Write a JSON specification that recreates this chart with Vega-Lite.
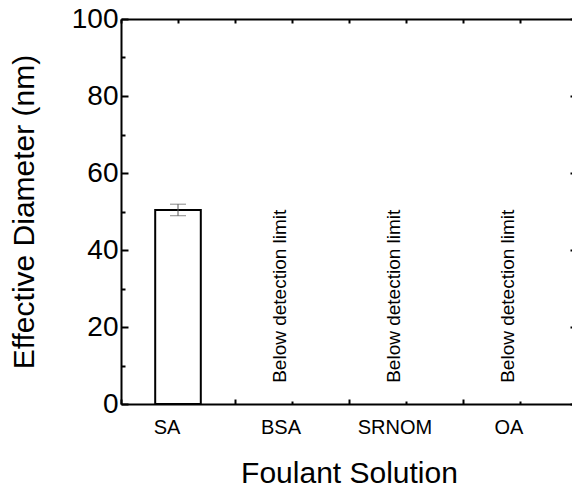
{
  "$schema": "https://vega.github.io/schema/vega-lite/v6.json",
  "width": 456,
  "height": 385,
  "autosize": "none",
  "padding": {"left": 121, "top": 19, "right": 0, "bottom": 88},
  "config": {
    "font": "Liberation Sans",
    "view": {"stroke": null},
    "axis": {"domainColor": "black", "tickColor": "black", "labelColor": "black", "titleColor": "black", "grid": false, "domainWidth": 2, "tickWidth": 2, "titleFontWeight": "normal"}
  },
  "data": {
    "values": [
      {"foulant": "SA", "diameter": 50.4, "lo": 48.9, "hi": 51.9, "note": null},
      {"foulant": "BSA", "diameter": null, "lo": null, "hi": null, "note": "Below detection limit"},
      {"foulant": "SRNOM", "diameter": null, "lo": null, "hi": null, "note": "Below detection limit"},
      {"foulant": "OA", "diameter": null, "lo": null, "hi": null, "note": "Below detection limit"}
    ]
  },
  "resolve": {"axis": {"x": "independent", "y": "independent"}},
  "layer": [
    {
      "mark": {"type": "bar", "fill": "white", "stroke": "black", "strokeWidth": 2, "width": {"band": 0.4}},
      "encoding": {
        "x": {"field": "foulant", "type": "nominal", "sort": ["SA", "BSA", "SRNOM", "OA"],
          "scale": {"paddingInner": 0, "paddingOuter": 0},
          "axis": {"orient": "bottom", "title": "Foulant Solution", "labelAngle": 0, "labelFontSize": 20, "labelOffset": -11, "labelPadding": 16, "tickSize": -3, "titleFontSize": 30, "titlePadding": 21}},
        "y": {"field": "diameter", "type": "quantitative", "scale": {"domain": [0, 100], "nice": false},
          "axis": {"orient": "left", "values": [0, 20, 40, 60, 80, 100], "title": "Effective Diameter (nm)", "labelFontSize": 28, "tickSize": -7, "labelPadding": 10, "titleFontSize": 30, "titlePadding": 32}}
      }
    },
    {
      "mark": {"type": "rule", "color": "#555555", "strokeWidth": 1},
      "encoding": {
        "x": {"field": "foulant", "type": "nominal", "sort": ["SA", "BSA", "SRNOM", "OA"],
          "axis": {"orient": "bottom", "title": null, "labels": false, "domain": false, "bandPosition": 0, "tickSize": -5}},
        "y": {"field": "lo", "type": "quantitative",
          "axis": {"orient": "left", "title": null, "labels": false, "domain": false, "values": [10, 30, 50, 70, 90], "tickSize": -4}},
        "y2": {"field": "hi"}
      }
    },
    {
      "mark": {"type": "tick", "color": "#555555", "size": 16, "thickness": 1},
      "encoding": {
        "x": {"field": "foulant", "type": "nominal", "sort": ["SA", "BSA", "SRNOM", "OA"],
          "axis": {"orient": "top", "title": null, "labels": false, "domain": true, "tickSize": -4}},
        "y": {"field": "lo", "type": "quantitative",
          "axis": {"orient": "right", "title": null, "labels": false, "domain": true, "values": [0, 20, 40, 60, 80, 100], "tickSize": -7}}
      }
    },
    {
      "mark": {"type": "tick", "color": "#555555", "size": 16, "thickness": 1},
      "encoding": {
        "x": {"field": "foulant", "type": "nominal", "sort": ["SA", "BSA", "SRNOM", "OA"],
          "axis": {"orient": "top", "title": null, "labels": false, "domain": false, "bandPosition": 0, "tickSize": -4}},
        "y": {"field": "hi", "type": "quantitative", "axis": null}
      }
    },
    {
      "transform": [{"filter": "datum.note != null"}],
      "mark": {"type": "text", "angle": 270, "align": "left", "baseline": "alphabetic", "dy": -6, "fontSize": 19, "color": "black"},
      "encoding": {
        "x": {"field": "foulant", "type": "nominal", "sort": ["SA", "BSA", "SRNOM", "OA"], "axis": null},
        "y": {"datum": 5.5, "type": "quantitative", "axis": null},
        "text": {"field": "note"}
      }
    }
  ]
}
